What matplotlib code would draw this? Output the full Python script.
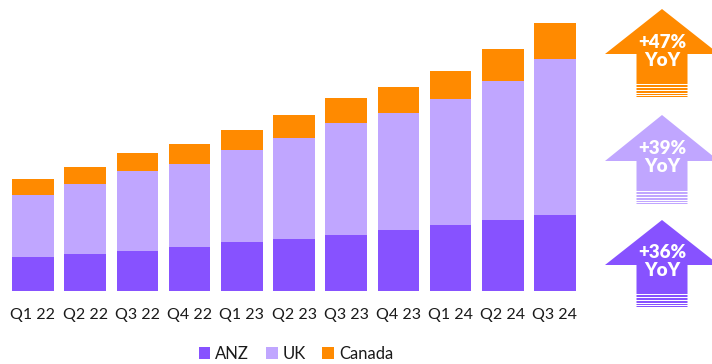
import matplotlib
matplotlib.use("Agg")
import matplotlib.pyplot as plt
from matplotlib.patches import Polygon, Rectangle
import numpy as np

quarters = ["Q1 22", "Q2 22", "Q3 22", "Q4 22", "Q1 23", "Q2 23",
            "Q3 23", "Q4 23", "Q1 24", "Q2 24", "Q3 24"]
anz = [34.0, 36.7, 40.3, 44.0, 48.7, 52.3, 56.3, 61.0, 66.0, 70.7, 76.3]
uk = [62.0, 70.3, 79.7, 83.3, 92.0, 101.0, 111.7, 117.0, 126.0, 139.3, 155.7]
canada = [15.7, 16.7, 18.0, 19.7, 20.3, 22.7, 24.7, 26.0, 28.0, 31.7, 36.3]

ANZ_C = "#8752FF"
UK_C = "#C0A6FF"
CA_C = "#FF8A00"
TEXT_C = "#1a1a1a"

plt.rcParams["font.family"] = ["Lato", "DejaVu Sans"]

W, H = 712, 364
fig = plt.figure(figsize=(W / 100, H / 100), dpi=100)
ax = fig.add_axes([6.9 / W, 73 / H, 574.2 / W, 280 / H])

x = np.arange(len(quarters))
ax.bar(x, anz, 0.8, color=ANZ_C, label="ANZ")
ax.bar(x, uk, 0.8, bottom=anz, color=UK_C, label="UK")
ax.bar(x, canada, 0.8, bottom=np.add(anz, uk), color=CA_C, label="Canada")

ax.set_xlim(-0.5, len(x) - 0.5)
ax.set_ylim(0, 280)
ax.set_xticks(x, quarters)
ax.set_yticks([])
ax.tick_params(axis="x", length=0, pad=12.5, labelsize=11.5, labelcolor=TEXT_C)
for s in ax.spines.values():
    s.set_visible(False)

ax.legend(loc="center", bbox_to_anchor=((296 - 6.9) / 574.2, (10 - 73) / 280),
          ncol=3, frameon=False, fontsize=12, handlelength=0.7,
          handleheight=0.7, handletextpad=0.3, columnspacing=1.0,
          labelcolor=TEXT_C, borderpad=0.2)


def yoy(series):
    return round((series[-1] / series[-5] - 1) * 100)


# growth arrows on the right, in figure pixel space
oax = fig.add_axes([0, 0, 1, 1])
oax.set_xlim(0, W)
oax.set_ylim(H, 0)
oax.axis("off")


def draw_arrow(cx, tip, base, bottom, color, pct):
    hw, sw = 57, 25.5
    pts = [(cx, tip), (cx + hw, base), (cx + sw, base), (cx + sw, bottom),
           (cx - sw, bottom), (cx - sw, base), (cx - hw, base)]
    oax.add_patch(Polygon(pts, closed=True, facecolor=color, edgecolor="none"))
    # fading stripes at the foot of the shaft
    y = bottom - 16.5
    for band in [2.6, 2.3, 2.0, 1.7, 1.4, 1.2]:
        y += band
        oax.add_patch(Rectangle((cx - sw - 1, y), 2 * sw + 2, 0.9,
                                facecolor="white", edgecolor="none"))
        y += 0.9
    oax.text(cx, tip + 33, f"+{pct}%", color="white", fontsize=13.5,
             fontweight="heavy", ha="center", va="center")
    oax.text(cx, tip + 51, "YoY", color="white", fontsize=13.5,
             fontweight="heavy", ha="center", va="center")


draw_arrow(662, 9, 54, 98, CA_C, yoy(canada))
draw_arrow(662, 115, 161, 205, UK_C, yoy(uk))
draw_arrow(662, 220, 265, 308, ANZ_C, yoy(anz))

fig.savefig("out.png", dpi=100)
plt.close(fig)
